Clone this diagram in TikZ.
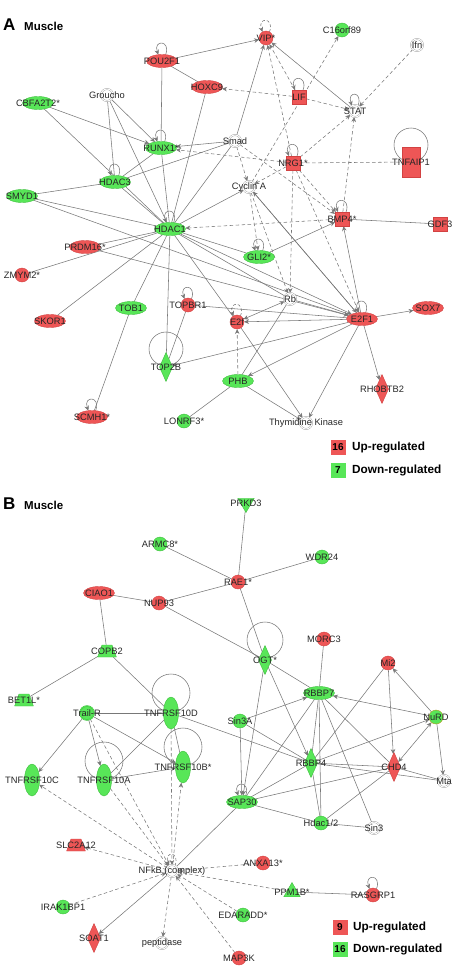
\documentclass[tikz,border=0pt]{standalone}
\usepackage{fontspec}
\setmainfont{Liberation Sans}
\usetikzlibrary{shapes.geometric,arrows.meta}
\pgfdeclarelayer{bg}
\pgfsetlayers{bg,main}
\definecolor{upc}{RGB}{238,86,86}
\definecolor{upb}{RGB}{210,66,66}
\definecolor{dnc}{RGB}{88,230,88}
\definecolor{dnb}{RGB}{62,190,62}
\definecolor{edc}{RGB}{120,120,120}
\definecolor{whb}{RGB}{160,160,160}
\begin{document}
\begin{tikzpicture}[x=1pt,y=1pt,
 every label/.style={font=\fontsize{9.3}{10}\selectfont, inner sep=0pt, text=black!85},
 nd/.style={inner sep=0pt, outer sep=0pt, line width=0.4pt},
 rel/.style={nd, ellipse, fill=upc, draw=upb, minimum width=31pt, minimum height=13pt},
 gel/.style={nd, ellipse, fill=dnc, draw=dnb, minimum width=31pt, minimum height=13pt},
 rci/.style={nd, circle, fill=upc, draw=upb, minimum size=14pt},
 gci/.style={nd, circle, fill=dnc, draw=dnb, minimum size=14pt},
 wci/.style={nd, circle, fill=white, draw=whb, double=white, double distance=0.9pt, minimum size=12pt},
 rsq/.style={nd, rectangle, fill=upc, draw=upb, minimum size=14pt},
 rdi/.style={nd, diamond, fill=upc, draw=upb, minimum width=13pt, minimum height=29pt},
 gdi/.style={nd, diamond, fill=dnc, draw=dnb, minimum width=13pt, minimum height=29pt},
 gtall/.style={nd, ellipse, fill=dnc, draw=dnb, minimum width=15pt, minimum height=32pt},
 gtru/.style={nd, regular polygon, regular polygon sides=3, fill=dnc, draw=dnb, minimum size=19pt},
 gtrd/.style={gtru, shape border rotate=180},
 gtrap/.style={nd, inner xsep=5pt, inner ysep=6pt, trapezium, trapezium angle=70, fill=dnc, draw=dnb},
 rtrap/.style={gtrap, fill=upc, draw=upb},
 ln/.style={draw=edc, line width=0.55pt},
 la/.style={ln, -{Stealth[length=5pt,width=4.5pt]}},
 lb/.style={ln, {Stealth[length=5pt,width=4.5pt]}-{Stealth[length=5pt,width=4.5pt]}},
 dl/.style={ln, dash pattern=on 3.5pt off 2.5pt},
 dla/.style={la, dash pattern=on 3.5pt off 2.5pt},
 sl/.style={la, out=70, in=110, min distance=16pt},
 sld/.style={sl, dash pattern=on 3pt off 2pt},
 ttl/.style={anchor=base west, inner sep=0pt, font=\bfseries\fontsize{17}{17}\selectfont},
 mus/.style={anchor=base west, inner sep=0pt, font=\bfseries\fontsize{11.5}{12}\selectfont},
 lgu/.style={nd, rectangle, fill=upc, minimum size=15pt, font=\bfseries\fontsize{10}{10}\selectfont},
 lgd/.style={lgu, fill=dnc},
 lgt/.style={anchor=west, inner sep=0pt, font=\bfseries\fontsize{11.8}{12}\selectfont}
]
\useasboundingbox (0,0) rectangle (457,-977);
% ---------------- Panel A ----------------
\node[ttl] (tA) at (3,-30) {A};
\node[mus] (mA) at (24,-30) {Muscle};
\node[rel, label=center:POU2F1] (pou) at (162,-61) {};
\node[rci, label=center:VIP*] (vip) at (266,-38) {};
\node[gci, label=center:C16orf89] (c16) at (342,-30) {};
\node[wci, label=center:Ifn] (ifn) at (417,-45) {};
\node[rel, label=center:HOXC9] (hox) at (207,-87) {};
\node[rsq, label=center:LIF] (lif) at (299,-97) {};
\node[wci, label=center:Groucho] (grou) at (107,-95) {};
\node[wci, label=center:STAT] (stat) at (355,-111) {};
\node[gel, label=center:CBFA2T2*] (cbfa) at (38,-103) {};
\node[gel, label=center:RUNX1*] (runx) at (161,-148) {};
\node[wci, label=center:Smad] (smad) at (235,-141) {};
\node[rsq, label=center:NRG1*] (nrg) at (293,-163) {};
\node[nd, rectangle, fill=upc, draw=upb, minimum width=18pt, minimum height=30pt, label=center:TNFAIP1] (tnfa) at (411,-162) {};
\node[gel, label=center:HDAC3] (hdac3) at (115,-182) {};
\node[gel, label=center:SMYD1] (smyd) at (22,-196) {};
\node[wci, label=center:Cyclin A] (cyca) at (249,-187) {};
\node[rsq, label=center:BMP4*] (bmp) at (342,-219) {};
\node[rsq, label=center:GDF3] (gdf) at (440,-224) {};
\node[gel, label=center:HDAC1] (hdac1) at (170,-229) {};
\node[rel, label=center:PRDM16*] (prdm) at (85,-247) {};
\node[rci, label=center:ZMYM2*] (zmym) at (22,-275) {};
\node[gel, label=center:GLI2*] (gli) at (259,-257) {};
\node[rel, label=center:SKOR1] (skor) at (50,-321) {};
\node[gel, label=center:TOB1] (tob) at (131,-308) {};
\node[rci, label=center:TOPBR1] (topbr) at (188,-305) {};
\node[wci, label=center:Rb] (rb) at (290,-299) {};
\node[rci, label=center:E2f] (e2f) at (237,-322) {};
\node[rel, label=center:E2F1] (e2f1) at (362,-319) {};
\node[rel, label=center:SOX7] (sox) at (428,-308) {};
\node[gdi, label=center:TOP2B] (top2b) at (166,-367) {};
\node[gel, label=center:PHB] (phb) at (238,-381) {};
\node[rdi, label=center:RHOBTB2] (rhob) at (382,-389) {};
\node[rel, label=center:SCMH1*] (scmh) at (92,-417) {};
\node[gci, label=center:LONRF3*] (lonrf) at (184,-421) {};
\node[wci, label=center:Thymidine Kinase] (tk) at (306,-423) {};
\node[lgu] (lgAu) at (338,-447) {16};
\node[lgt] (lgAut) at (352,-447) {Up-regulated};
\node[lgd] (lgAd) at (338,-470) {7};
\node[lgt] (lgAdt) at (352,-470) {Down-regulated};
% ---------------- Panel B ----------------
\node[ttl] (tB) at (3,-509) {B};
\node[mus] (mB) at (24,-509) {Muscle};
\node[gtrd, label=center:PRKD3] (prkd) at (246,-503) {};
\node[gci, label=center:ARMC8*] (armc) at (160,-544) {};
\node[gci, label=center:WDR24] (wdr) at (322,-557) {};
\node[rci, label=center:RAE1*] (rae) at (238,-582) {};
\node[rel, label=center:CIAO1] (ciao) at (99,-593) {};
\node[rci, label=center:NUP93] (nup) at (159,-603) {};
\node[gtrap, label=center:COPB2] (copb) at (107,-651) {};
\node[gdi, label=center:OGT*] (ogt) at (265,-660) {};
\node[rci, label=center:MORC3] (morc) at (324,-639) {};
\node[rci, label=center:Mi2] (mi2) at (388,-663) {};
\node[gel, label=center:RBBP7] (rbbp7) at (319,-693) {};
\node[gtrap, label=center:BET1L*] (bet) at (24,-700) {};
\node[gci, double=dnc, double distance=0.6pt, label=center:Trail-R] (trail) at (87,-713) {};
\node[gtall, label=center:TNFRSF10D] (tnfd) at (171,-713) {};
\node[gci, label=center:Sin3A] (sin3a) at (240,-721) {};
\node[gci, draw=orange!60!dnb, label=center:NuRD] (nurd) at (436,-717) {};
\node[gtall, label=center:TNFRSF10C] (tnfc) at (32,-780) {};
\node[gtall, label=center:TNFRSF10A] (tnfa2) at (104,-780) {};
\node[gtall, label=center:TNFRSF10B*] (tnfb) at (183,-767) {};
\node[gdi, label=center:RBBP4] (rbbp4) at (311,-763) {};
\node[rdi, label=center:CHD4] (chd4) at (394,-767) {};
\node[wci, label=center:Mta] (mta) at (444,-781) {};
\node[gel, label=center:SAP30] (sap) at (242,-802) {};
\node[gci, label=center:Hdac1/2] (hd12) at (321,-823) {};
\node[wci, label=center:Sin3] (sin3) at (374,-828) {};
\node[rtrap, label=center:SLC2A12] (slc) at (76,-845) {};
\node[rci, label=center:ANXA13*] (anxa) at (263,-863) {};
\node[wci, label=center:NFkB (complex)] (nfkb) at (172,-871) {};
\node[gtru, label=center:PPM1B*] (ppm) at (292,-892) {};
\node[rci, label=center:RASGRP1] (ras) at (373,-895) {};
\node[gci, label=center:IRAK1BP1] (irak) at (63,-907) {};
\node[gci, label=center:EDARADD*] (edar) at (243,-915) {};
\node[rdi, label=center:SOAT1] (soat) at (94,-938) {};
\node[wci, label=center:peptidase] (pept) at (162,-943) {};
\node[rci, label=center:MAP3K] (map3k) at (239,-958) {};
\node[lgu] (lgBu) at (340,-927) {9};
\node[lgt] (lgBut) at (353,-927) {Up-regulated};
\node[lgd] (lgBd) at (340,-949) {16};
\node[lgt] (lgBdt) at (353,-949) {Down-regulated};
% ---------------- Edges ----------------
\begin{pgfonlayer}{bg}
% Panel A
\foreach \a/\b in {pou/hox, pou/runx, hox/hdac1, grou/hdac3, grou/hdac1, cbfa/hdac1,
  hdac3/runx, hdac3/smad, hdac3/hdac1, smyd/hdac3, smyd/hdac1, hdac1/runx, hdac1/prdm,
  hdac1/zmym, hdac1/skor, hdac1/tob, hdac1/top2b, hdac1/e2f, hdac1/rb, hdac1/smad,
  tob/scmh, topbr/e2f1, topbr/top2b, phb/rb, phb/lonrf, bmp/gdf, hdac1/gli, smyd/e2f1}
  \draw[ln] (\a) -- (\b);
\foreach \a/\b in {pou/vip, smad/vip, stat/vip, grou/runx, cbfa/runx, smad/runx, hdac1/cyca,
  e2f1/top2b, e2f1/sox, e2f1/rhob, e2f1/phb, e2f1/tk, e2f1/e2f, rb/e2f1, phb/tk, e2f/tk,
  e2f1/bmp, gli/bmp, cyca/e2f1, hdac1/e2f1, e2f1/cyca, prdm/e2f1}
  \draw[la] (\a) -- (\b);
\draw[lb] (rb) -- (e2f);
\foreach \a/\b in {lif/hox, lif/vip, lif/stat, nrg/vip, nrg/stat, nrg/runx, nrg/cyca, nrg/rb,
  nrg/e2f1, ifn/stat, bmp/stat, cyca/c16, smad/cyca, bmp/hdac1, cyca/gli, cyca/rb, phb/e2f,
  nrg/bmp, smad/bmp}
  \draw[dla] (\a) -- (\b);
\draw[dl] (nrg) -- (tnfa);
\foreach \n in {pou, lif, stat, runx, hdac3, hdac1, nrg, bmp, gli, e2f1, topbr, scmh}
  \draw[sl] (\n.60) to (\n.120);
\draw[sld] (vip.60) to (vip.120);
\draw[sld] (e2f.60) to (e2f.120);
\draw[ln] ([yshift=17pt]tnfa.center) circle[radius=17pt];
\draw[ln] ([yshift=18pt]top2b.center) circle[radius=17pt];
% Panel B
\foreach \a/\b in {prkd/rae, armc/rae, wdr/rae, rae/nup, rae/ogt, ciao/nup, ciao/copb, nup/ogt,
  copb/bet, copb/tnfd, trail/tnfd, tnfd/tnfa2, tnfd/tnfb, tnfd/rbbp4, ogt/rbbp7, morc/rbbp7,
  sin3a/rbbp4, rbbp7/rbbp4, rbbp7/sap, rbbp7/hd12, rbbp7/sin3, rbbp7/chd4, rbbp4/chd4,
  rbbp4/mta, rbbp4/sap, rbbp4/hd12, chd4/sap, chd4/mta, chd4/hd12, sap/hd12, hd12/sin3,
  sap/nfkb, ppm/ras, mi2/rbbp4}
  \draw[ln] (\a) -- (\b);
\foreach \a/\b in {trail/tnfc, trail/tnfa2, trail/tnfb, tnfa2/tnfb, ogt/rbbp4, ogt/sap,
  sin3a/rbbp7, sin3a/sap, nurd/rbbp7, nurd/mi2, nurd/mta, rbbp4/nurd, mi2/chd4, nfkb/soat}
  \draw[la] (\a) -- (\b);
\draw[lb] (nurd) -- (chd4);
\foreach \a/\b in {nfkb/tnfc, nfkb/tnfb, tnfa2/nfkb, tnfd/nfkb, trail/nfkb, nfkb/slc,
  irak/nfkb, nfkb/pept, anxa/nfkb, ppm/nfkb, edar/nfkb, map3k/nfkb}
  \draw[dla] (\a) -- (\b);
\draw[sl] (sap.60) to (sap.120);
\draw[sl] (ras.60) to (ras.120);
\draw[sld] (nfkb.60) to (nfkb.120);
\draw[ln] ([yshift=20pt]ogt.center) circle[radius=18pt];
\draw[ln] ([yshift=20pt]tnfd.center) circle[radius=19pt];
\draw[ln] ([yshift=19pt]tnfa2.center) circle[radius=19pt];
\draw[ln] ([yshift=20pt]tnfb.center) circle[radius=19pt];
\end{pgfonlayer}
\end{tikzpicture}
\end{document}
